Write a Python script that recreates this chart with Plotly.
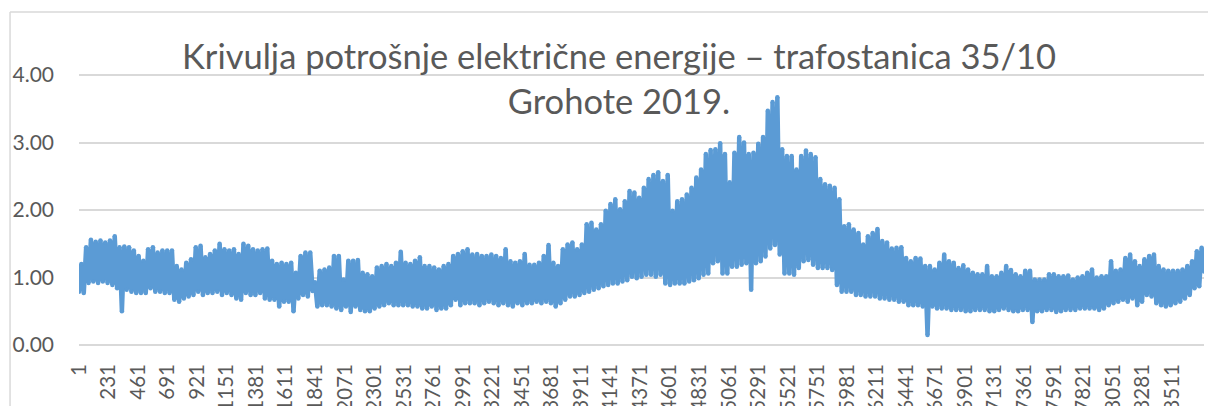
import plotly.graph_objects as go

# Hourly load of TS 35/10 Grohote, 2019 — daily peak / trough envelope,
# one pair every ~37 h across the year (hour 1 .. 8760), in MW.
peak = [
    1.20, 1.45, 1.56, 1.53, 1.55, 1.52, 1.55, 1.61, 1.45, 1.46,
    1.45, 1.40, 1.32, 1.25, 1.42, 1.45, 1.37, 1.40, 1.40, 1.40,
    1.17, 1.12, 1.22, 1.27, 1.45, 1.47, 1.30, 1.35, 1.40, 1.50,
    1.42, 1.40, 1.42, 1.35, 1.50, 1.47, 1.42, 1.40, 1.42, 1.43,
    1.25, 1.20, 1.22, 1.20, 1.22, 1.07, 1.32, 1.37, 1.37, 0.93,
    1.10, 1.12, 1.15, 1.32, 1.32, 0.97, 1.25, 1.25, 1.26, 1.07,
    1.05, 1.02, 1.15, 1.17, 1.20, 1.17, 1.22, 1.38, 1.22, 1.20,
    1.25, 1.30, 1.17, 1.17, 1.15, 1.12, 1.17, 1.20, 1.32, 1.35,
    1.39, 1.42, 1.34, 1.35, 1.32, 1.32, 1.34, 1.32, 1.29, 1.42,
    1.24, 1.22, 1.24, 1.35, 1.19, 1.19, 1.22, 1.32, 1.48, 1.22,
    1.17, 1.42, 1.49, 1.52, 1.42, 1.49, 1.79, 1.81, 1.71, 1.79,
    1.99, 2.09, 2.16, 2.01, 2.13, 2.28, 2.26, 2.18, 2.33, 2.46,
    2.52, 2.56, 2.43, 2.52, 1.99, 2.13, 2.16, 2.23, 2.33, 2.48,
    2.60, 2.83, 2.89, 2.90, 2.99, 2.83, 2.41, 2.85, 3.08, 3.00,
    2.83, 2.85, 2.98, 3.08, 3.47, 3.60, 3.67, 2.90, 2.80, 2.80,
    2.60, 2.80, 2.88, 2.83, 2.78, 2.46, 2.38, 2.36, 2.33,
    2.16, 1.76, 1.79, 1.71, 1.66, 1.49, 1.61, 1.66, 1.72, 1.54,
    1.52, 1.43, 1.44, 1.45, 1.29, 1.24, 1.29, 1.28, 1.17, 1.17,
    1.12, 1.22, 1.34, 1.24, 1.22, 1.14, 1.18, 1.12, 1.07, 1.05,
    1.05, 1.17, 1.02, 1.02, 1.07, 1.17, 1.11, 1.05, 1.02, 1.10,
    1.10, 0.97, 0.97, 0.97, 1.05, 1.05, 1.02, 1.02, 1.03, 0.97,
    1.00, 1.02, 1.07, 1.12, 1.00, 1.02, 1.02, 1.24, 1.10, 1.12,
    1.29, 1.34, 1.24, 1.17, 1.27, 1.32, 1.34, 1.17, 1.12, 1.10,
    1.10, 1.10, 1.12, 1.17, 1.24, 1.39, 1.44, 1.44,
]
trough = [
    0.79, 0.77, 0.92, 0.94, 0.92, 0.94, 0.92, 0.89, 0.84, 0.50,
    0.82, 0.79, 0.77, 0.77, 0.77, 0.84, 0.79, 0.79, 0.77, 0.77,
    0.67, 0.64, 0.69, 0.72, 0.74, 0.79, 0.74, 0.77, 0.77, 0.79,
    0.74, 0.77, 0.74, 0.69, 0.67, 0.77, 0.74, 0.74, 0.77, 0.69,
    0.67, 0.67, 0.57, 0.64, 0.64, 0.50, 0.69, 0.74, 0.72, 0.80,
    0.57, 0.59, 0.59, 0.57, 0.54, 0.52, 0.57, 0.49, 0.57, 0.52,
    0.50, 0.50, 0.54, 0.57, 0.59, 0.62, 0.59, 0.59, 0.59, 0.59,
    0.57, 0.57, 0.54, 0.54, 0.57, 0.52, 0.54, 0.54, 0.59, 0.67,
    0.59, 0.62, 0.62, 0.62, 0.59, 0.62, 0.64, 0.62, 0.59, 0.62,
    0.59, 0.57, 0.62, 0.59, 0.62, 0.62, 0.64, 0.62, 0.64, 0.62,
    0.57, 0.62, 0.67, 0.72, 0.72, 0.74, 0.77, 0.79, 0.82, 0.84,
    0.87, 0.89, 0.91, 0.91, 0.94, 0.96, 1.01, 0.99, 1.01, 1.04,
    1.04, 1.01, 1.04, 0.91, 0.89, 0.91, 0.91, 0.91, 0.94, 0.96,
    0.99, 1.04, 1.06, 1.21, 1.24, 1.06, 1.06, 1.16, 1.16, 1.19,
    1.21, 0.82, 1.21, 1.24, 1.31, 1.43, 1.48, 1.34, 1.06, 1.06,
    1.04, 1.14, 1.24, 1.26, 1.19, 1.14, 1.14, 1.14, 1.11,
    0.89, 0.79, 0.79, 0.79, 0.74, 0.74, 0.72, 0.72, 0.72, 0.69,
    0.69, 0.67, 0.67, 0.64, 0.64, 0.59, 0.59, 0.59, 0.57, 0.15,
    0.57, 0.54, 0.54, 0.54, 0.52, 0.52, 0.52, 0.50, 0.50, 0.52,
    0.52, 0.52, 0.50, 0.50, 0.52, 0.54, 0.52, 0.50, 0.50, 0.52,
    0.52, 0.34, 0.50, 0.50, 0.52, 0.52, 0.49, 0.50, 0.52, 0.52,
    0.52, 0.54, 0.54, 0.54, 0.54, 0.52, 0.54, 0.59, 0.62, 0.64,
    0.67, 0.64, 0.69, 0.59, 0.64, 0.74, 0.72, 0.62, 0.59, 0.57,
    0.59, 0.62, 0.64, 0.69, 0.74, 0.84, 0.87, 1.09,
]

first_hour = 1
last_hour = 8760
tick_hours = list(range(1, 8760, 230))
tick_labels = [str(h) for h in tick_hours]
y_ticks = [0, 1, 2, 3, 4]

title_lines = ["Krivulja potrošnje električne energije – trafostanica 35/10",
               "Grohote 2019."]

# Expand the envelope into an alternating trough/peak hourly trace
n = len(peak)
step = (last_hour - first_hour) / (n - 1)
hours, load = [], []
for k in range(n):
    t = first_hour + k * step
    hours += [t, t + step / 2]
    load += [trough[k], peak[k]]

GREY_TXT = "#595959"
GRID = "#d9d9d9"
BLUE = "#5b9bd5"
FONT = "Lato"

# Round-dot markers at each vertex give the thick line rounded joins
fig = go.Figure(go.Scatter(
    x=hours, y=load, mode="lines+markers",
    line=dict(color=BLUE, width=4.5, shape="linear"),
    marker=dict(color=BLUE, size=4.5, line=dict(width=0)),
    hoverinfo="skip", showlegend=False,
))

fig.update_layout(
    width=1208, height=406,
    margin=dict(l=79, r=4, t=30, b=61),
    paper_bgcolor="white", plot_bgcolor="white",
    font=dict(family=FONT, color=GREY_TXT),
    xaxis=dict(
        range=[first_hour, last_hour], automargin=False,
        tickmode="array", tickvals=tick_hours, ticktext=tick_labels,
        tickangle=-90, ticks="", showgrid=False, zeroline=False,
        showline=False, tickfont=dict(size=20.5, color=GREY_TXT, family=FONT),
        ticklabelstandoff=14,
    ),
    yaxis=dict(
        range=[0, 315 / 67.5], automargin=False,
        tickmode="array", tickvals=y_ticks,
        ticktext=[f"{v:.2f}" for v in y_ticks],
        showgrid=True, gridcolor=GRID, gridwidth=1.5,
        zeroline=True, zerolinecolor=GRID, zerolinewidth=1.5,
        showline=False, ticks="",
        tickfont=dict(size=21, color=GREY_TXT, family=FONT),
        ticklabelstandoff=24,
    ),
    annotations=[dict(
        text="<br>".join(title_lines),
        xref="paper", yref="paper", x=0.48, y=0.992,
        xanchor="center", yanchor="top", showarrow=False,
        font=dict(size=34.5, color=GREY_TXT, family=FONT),
    )],
    shapes=[
        # chart-area frame (left and top edges)
        dict(type="line", xref="paper", yref="paper",
             x0=-0.0613, x1=-0.0613, y0=-0.4, y1=1.0571,
             line=dict(color=GRID, width=1.5)),
        dict(type="line", xref="paper", yref="paper",
             x0=-0.0613, x1=1.02, y0=1.0571, y1=1.0571,
             line=dict(color=GRID, width=1.5)),
    ],
)

fig.write_html("out.html")
